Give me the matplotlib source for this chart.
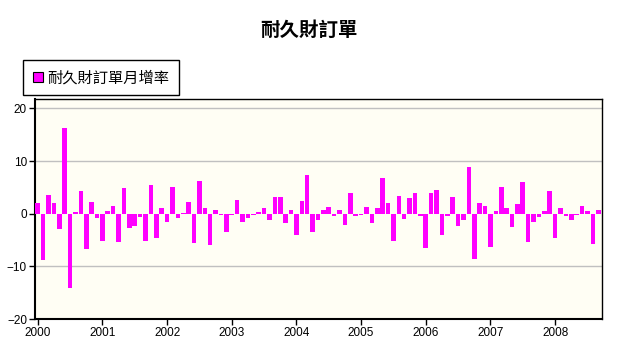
import matplotlib
matplotlib.use("Agg")
import matplotlib.pyplot as plt
from matplotlib.lines import Line2D
import numpy as np

title = "耐久財訂單"
series_name = "耐久財訂單月增率"
start_year = 2000
year_labels = ["2000", "2001", "2002", "2003", "2004", "2005", "2006", "2007", "2008"]
# monthly change, Jan 2000 .. Sep 2008
values = [
    2.0, -8.7, 3.5, 2.0, -2.9, 16.2, -14.2, 0.3, 4.4, -6.7, 2.2, -0.8,
    -5.1, 0.6, 1.5, -5.4, 4.9, -2.7, -2.3, -0.7, -5.1, 5.5, -4.6, 1.0,
    -1.6, 5.1, -0.8, 0.2, 2.3, -5.6, 6.3, 1.0, -6.0, 0.8, -0.2, -3.4,
    -0.2, 2.7, -1.6, -0.8, -0.2, 0.4, 1.1, -1.2, 3.1, 3.1, -1.8, 0.8,
    -4.0, 2.5, 7.3, -3.5, -1.1, 0.8, 1.2, -0.4, 0.8, -2.2, 4.0, -0.4,
    -0.3, 1.2, -1.8, 1.0, 6.8, 2.0, -5.2, 3.3, -1.0, 2.9, 4.0, -0.4,
    -6.5, 4.0, 4.6, -4.1, -0.4, 3.2, -2.3, -1.2, 8.9, -8.6, 2.1, 1.4,
    -6.3, 0.5, 5.0, 1.0, -2.5, 1.8, 6.0, -5.4, -1.6, -0.7, 0.5, 4.4,
    -4.6, 1.0, -0.4, -1.2, -0.2, 1.4, 0.6, -5.8, 0.8,
]
y_ticks = [-20, -10, 0, 10, 20]

plt.rcParams['font.family'] = ['Liberation Sans', 'Noto Sans CJK TC', 'DejaVu Sans']

fig = plt.figure(figsize=(6.18, 3.53), dpi=100)
fig.patch.set_facecolor('white')
ax = fig.add_axes([35.3/618, 1-319/353, (602-35.3)/618, (319-98.5)/353])
ax.set_facecolor('#FFFEF4')

x = np.arange(len(values))
ax.bar(x, values, width=0.85, color='#FF00FF', zorder=3, linewidth=0)

ax.set_xlim(-0.45, 104.7)
ax.set_ylim(-20, 21.9)
ax.set_yticks(y_ticks)
ax.set_xticks(np.arange(0, len(values), 12))
ax.set_xticklabels(year_labels)
for yv in [-10, 10, 20]:
    ax.axhline(yv, color='#C0C0C0', linewidth=1, zorder=1)

for s in ax.spines.values():
    s.set_color('black')
    s.set_linewidth(1)
ax.spines['left'].set_linewidth(1.5)
ax.spines['bottom'].set_linewidth(1.5)
ax.tick_params(axis='both', direction='out', length=4, width=1, colors='black',
               labelsize=8.5, pad=2)

fig.text(0.5, 1-30/353, title, ha='center', va='center', fontsize=14,
         fontweight='bold', family=['Noto Sans CJK TC', 'DejaVu Sans'])

handle = Line2D([], [], marker='s', linestyle='none', markersize=7,
                markerfacecolor='#FF00FF', markeredgecolor='black', markeredgewidth=0.8)
leg = fig.legend([handle], [series_name], loc='upper left',
                 bbox_to_anchor=(23/618, 1-60/353), borderaxespad=0,
                 fancybox=False, edgecolor='black', framealpha=1,
                 prop={'family': ['Noto Sans CJK TC', 'DejaVu Sans'], 'size': 11},
                 handlelength=0.7, handletextpad=0.3, borderpad=0.6)
leg.get_frame().set_linewidth(1)

fig.savefig('out.png', dpi=100)
